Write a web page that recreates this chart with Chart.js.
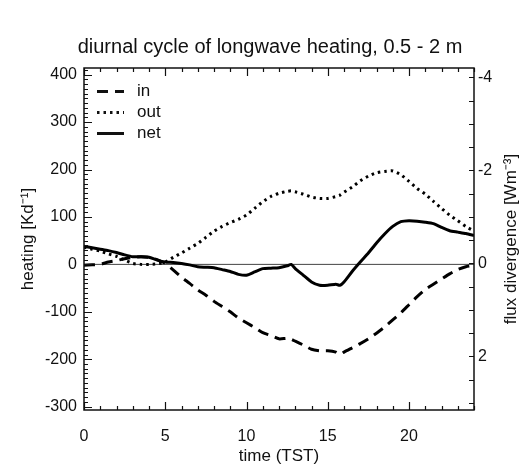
<!DOCTYPE html>
<html>
<head>
<meta charset="utf-8">
<script src="https://cdn.jsdelivr.net/npm/chart.js@4.4.1/dist/chart.umd.min.js"></script>
<style>
  html, body { margin: 0; padding: 0; background: #fff; }
  #wrap { width: 520px; height: 468px; }
</style>
</head>
<body>
<div id="wrap"><canvas id="lwChart" width="520" height="468"></canvas></div>
<script>
// time of day (TST), hours
var hours = [0, 0.5, 1, 1.5, 2, 2.5, 3, 3.5, 4, 4.5, 5, 5.5, 6, 6.5, 7, 7.5, 8, 8.5, 9, 9.5,
    10, 10.5, 11, 11.5, 12, 12.5, 12.75, 13, 13.5, 14, 14.5, 15, 15.5, 15.75, 16, 16.5,
    17, 17.5, 18, 18.5, 19, 19.5, 20, 20.5, 21, 21.5, 22, 22.5, 23, 23.5, 24];

// heating rates, K/day
var heatIn = [-2, -1, 0, 5, 8, 12, 15, 16, 15, 10, 2, -12, -27, -40, -54, -65, -78, -89, -100, -113,
    -123, -133, -144, -150, -157, -156, -158, -162, -170, -179, -182, -182, -185, -190, -185, -176,
    -167, -157, -145, -132, -117, -102, -85, -68, -53, -42, -31, -20, -11, -5, -2];
var heatOut = [36, 32, 28, 22, 17, 9, 2, 0, 0, 1, 5, 15, 24, 34, 44, 57, 70, 80, 88, 95,
    104, 118, 132, 143, 150, 154, 155, 153, 148, 142, 139, 139, 143, 146, 152, 163,
    176, 186, 193, 196, 197, 189, 175, 160, 148, 133, 118, 104, 92, 80, 70];
var heatNet = [38, 35, 32, 29, 25, 20, 16, 16, 15, 9, 5, 4, 2, -1, -5, -6, -7, -11, -15, -21,
    -23, -16, -9, -8, -7, -3, 0, -9, -23, -37, -44, -44, -42, -44, -37, -15,
    5, 24, 45, 64, 80, 90, 92, 91, 89, 86, 78, 71, 68, 65, 61];

// axis tick labels
var xTickLabels = [0, 5, 10, 15, 20];
var heatTickLabels = [-300, -200, -100, 0, 100, 200, 300, 400];
var fluxTickLabels = [-4, -2, 0, 2];

var seriesNames = ['in', 'out', 'net'];

var FONT = '"Liberation Sans", Arial, Helvetica, sans-serif';
var INK = '#111';

function toPoints(vals) {
    var pts = [];
    for (var i = 0; i < hours.length; i++) {
        pts.push({x: hours[i], y: vals[i]});
    }
    return pts;
}

// line styles: dashed, dotted, solid
var dashIn = [11, 7];
var dashOut = [2.5, 4];

// frame, inward ticks, zero line, legend and titles
var framePlugin = {
    id: 'idlFrame',
    beforeDatasetsDraw: function (chart) {
        var ctx = chart.ctx, a = chart.chartArea;
        var y0 = chart.scales.y.getPixelForValue(0);
        ctx.save();
        ctx.strokeStyle = '#444';
        ctx.lineWidth = 1;
        ctx.beginPath();
        ctx.moveTo(a.left, y0);
        ctx.lineTo(a.right, y0);
        ctx.stroke();
        ctx.restore();
    },
    afterDraw: function (chart) {
        var ctx = chart.ctx, a = chart.chartArea;
        var sx = chart.scales.x, sy = chart.scales.y, sy2 = chart.scales.y2;
        var v, p, len;
        ctx.save();
        ctx.strokeStyle = INK;
        ctx.lineWidth = 1.2;
        ctx.beginPath();
        // bottom and top ticks
        for (v = 0; v <= 24; v++) {
            p = Math.round(sx.getPixelForValue(v)) + 0.5;
            len = (v % 5 === 0) ? 8 : 4;
            ctx.moveTo(p, a.bottom); ctx.lineTo(p, a.bottom - len);
            ctx.moveTo(p, a.top); ctx.lineTo(p, a.top + len);
        }
        // left ticks
        for (v = -300; v <= 410; v += 10) {
            p = Math.round(sy.getPixelForValue(v)) + 0.5;
            len = (v % 100 === 0) ? 8 : 4;
            ctx.moveTo(a.left, p); ctx.lineTo(a.left + len, p);
        }
        // right ticks
        for (v = -4; v <= 3; v += 0.5) {
            p = Math.round(sy2.getPixelForValue(v)) + 0.5;
            ctx.moveTo(a.right, p); ctx.lineTo(a.right - 5, p);
        }
        ctx.stroke();

        ctx.lineWidth = 1.5;
        ctx.strokeRect(a.left, a.top, a.right - a.left, a.bottom - a.top);

        // legend
        var dashes = [dashIn, dashOut, []];
        ctx.font = '17px ' + FONT;
        ctx.fillStyle = INK;
        ctx.textBaseline = 'middle';
        for (var i = 0; i < seriesNames.length; i++) {
            var ly = 91.5 + i * 21;
            ctx.setLineDash(dashes[i]);
            ctx.lineWidth = 3;
            ctx.beginPath();
            ctx.moveTo(97, ly);
            ctx.lineTo(124, ly);
            ctx.stroke();
            ctx.setLineDash([]);
            ctx.fillText(seriesNames[i], 137, ly);
        }

        // title and right axis title
        ctx.textAlign = 'center';
        ctx.font = '20px ' + FONT;
        ctx.fillText('diurnal cycle of longwave heating, 0.5 - 2 m', 270, 47);
        ctx.font = '17px ' + FONT;
        ctx.translate(511, (a.top + a.bottom) / 2);
        ctx.rotate(-Math.PI / 2);
        ctx.fillText('flux divergence [Wm\u207B\u00B3]', 0, 0);
        ctx.restore();
    }
};

var ctx = document.getElementById('lwChart');

var lwChart = new Chart(ctx, {
    type: 'line',
    data: {
        datasets: [
            {
                label: seriesNames[0],
                data: toPoints(heatIn),
                borderColor: '#000',
                borderWidth: 3,
                borderDash: dashIn,
                pointRadius: 0,
                tension: 0.2,
                yAxisID: 'y'
            },
            {
                label: seriesNames[1],
                data: toPoints(heatOut),
                borderColor: '#000',
                borderWidth: 3,
                borderDash: dashOut,
                pointRadius: 0,
                tension: 0.2,
                yAxisID: 'y'
            },
            {
                label: seriesNames[2],
                data: toPoints(heatNet),
                borderColor: '#000',
                borderWidth: 3,
                pointRadius: 0,
                tension: 0.2,
                yAxisID: 'y'
            }
        ]
    },
    options: {
        responsive: false,
        animation: false,
        layout: {padding: {top: 68, left: 0, right: 0, bottom: 0}},
        plugins: {
            legend: {display: false},
            title: {display: false},
            tooltip: {enabled: false}
        },
        scales: {
            x: {
                type: 'linear',
                min: 0,
                max: 24,
                afterBuildTicks: function (s) {
                    s.ticks = xTickLabels.map(function (v) { return {value: v}; });
                },
                afterFit: function (s) { s.height = 58; },
                grid: {display: false, drawTicks: false},
                border: {display: false},
                ticks: {
                    color: INK,
                    padding: 17,
                    maxRotation: 0,
                    font: {family: FONT, size: 16}
                },
                title: {
                    display: true,
                    text: 'time (TST)',
                    color: INK,
                    padding: {top: 0, bottom: 1},
                    font: {family: FONT, size: 17}
                }
            },
            y: {
                type: 'linear',
                position: 'left',
                min: -307,
                max: 414,
                afterBuildTicks: function (s) {
                    s.ticks = heatTickLabels.map(function (v) { return {value: v}; });
                },
                afterFit: function (s) { s.width = 84; },
                grid: {display: false, drawTicks: false},
                border: {display: false},
                ticks: {
                    color: INK,
                    padding: 7,
                    font: {family: FONT, size: 16}
                },
                title: {
                    display: true,
                    text: 'heating [Kd\u207B\u00B9]',
                    color: INK,
                    padding: {top: 18, bottom: 0},
                    font: {family: FONT, size: 17}
                }
            },
            y2: {
                type: 'linear',
                position: 'right',
                reverse: true,
                min: -4.2,
                max: 3.15,
                afterBuildTicks: function (s) {
                    s.ticks = fluxTickLabels.map(function (v) { return {value: v}; });
                },
                afterFit: function (s) { s.width = 46; },
                grid: {display: false, drawTicks: false},
                border: {display: false},
                ticks: {
                    color: INK,
                    padding: 4,
                    font: {family: FONT, size: 16}
                }
            }
        }
    },
    plugins: [framePlugin]
});
</script>
</body>
</html>
